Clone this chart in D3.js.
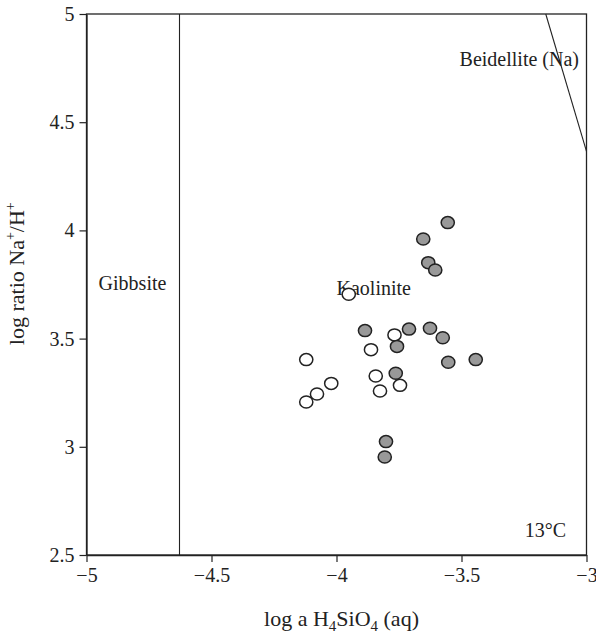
<!DOCTYPE html>
<html><head><meta charset="utf-8">
<script src="https://cdn.jsdelivr.net/npm/d3@7"></script>
<style>
body{margin:0;background:#fff;}
text{font-family:"Liberation Serif","Times New Roman",serif;fill:#222;}
</style></head>
<body><svg id="c" width="596" height="635"></svg>
<script>
const xTicks = [-5, -4.5, -4, -3.5, -3];
const yTicks = [2.5, 3, 3.5, 4, 4.5, 5];
const xTickLabels = ["\u22125", "\u22124.5", "\u22124", "\u22123.5", "\u22123"];
const yTickLabels = ["2.5", "3", "3.5", "4", "4.5", "5"];

const filledX = [-3.555, -3.653, -3.633, -3.605, -3.886, -3.710, -3.626, -3.575, -3.758, -3.553, -3.443, -3.763, -3.802, -3.807];
const filledY = [4.036, 3.960, 3.851, 3.817, 3.537, 3.544, 3.548, 3.504, 3.464, 3.391, 3.403, 3.340, 3.024, 2.953];
const openX = [-3.951, -3.768, -3.862, -4.121, -3.843, -4.021, -3.746, -4.078, -3.826, -4.121];
const openY = [3.705, 3.517, 3.449, 3.403, 3.327, 3.293, 3.284, 3.244, 3.258, 3.207];

const gibbsiteBoundaryX = -4.628;
const beidelliteLineX = [-3.163, -3.0];
const beidelliteLineY = [5.0, 4.365];

const fieldLabels = ["Gibbsite", "Kaolinite", "Beidellite (Na)", "13\u00b0C"];
const fieldLabelX = [-4.816, -4.0, -3.03, -3.082];
const fieldLabelY = [3.725, 3.70, 4.76, 2.583];
const fieldLabelAnchor = ["middle", "start", "end", "end"];

const W = 596, H = 635;
const m = {l: 86.5, r: 9.5, t: 14, b: 80};
const svg = d3.select("#c");
const x = d3.scaleLinear().domain([-5, -3]).range([m.l, W - m.r]);
const y = d3.scaleLinear().domain([2.5, 5]).range([H - m.b, m.t]);

const g = svg.append("g");

// frame
g.append("rect").attr("x", x(-5)).attr("y", y(5))
  .attr("width", x(-3) - x(-5)).attr("height", y(2.5) - y(5))
  .attr("fill", "none").attr("stroke", "#222").attr("stroke-width", 1.3);

// axes
const xAxis = d3.axisBottom(x).tickValues(xTicks).tickSize(7).tickSizeOuter(0)
  .tickFormat((d, i) => xTickLabels[i]);
const gx = g.append("g").attr("transform", `translate(0,${y(2.5)})`).call(xAxis);
const yAxis = d3.axisLeft(y).tickValues(yTicks).tickSize(7).tickSizeOuter(0)
  .tickFormat((d, i) => yTickLabels[i]);
const gy = g.append("g").attr("transform", `translate(${x(-5)},0)`).call(yAxis);
[gx, gy].forEach(a => {
  a.select(".domain").attr("stroke", "#222").attr("stroke-width", 1.3);
  a.selectAll(".tick line").attr("stroke", "#222").attr("stroke-width", 1.2);
  a.selectAll(".tick text").style("font-family", '"Liberation Serif",serif')
    .style("font-size", "20px").attr("fill", "#222");
});
gx.selectAll(".tick text").attr("dy", "0.3em").attr("y", 21);
gy.selectAll(".tick text").attr("x", -12);

// boundaries
g.append("line").attr("x1", x(gibbsiteBoundaryX)).attr("x2", x(gibbsiteBoundaryX))
  .attr("y1", y(2.5)).attr("y2", y(5)).attr("stroke", "#222").attr("stroke-width", 1.1);
g.append("line").attr("x1", x(beidelliteLineX[0])).attr("y1", y(beidelliteLineY[0]))
  .attr("x2", x(beidelliteLineX[1])).attr("y2", y(beidelliteLineY[1]))
  .attr("stroke", "#222").attr("stroke-width", 1.1);

// field labels
fieldLabels.forEach((t, i) => {
  g.append("text").attr("x", x(fieldLabelX[i])).attr("y", y(fieldLabelY[i]))
    .attr("text-anchor", fieldLabelAnchor[i]).style("font-size", "20px").text(t);
});

// points
const filled = filledX.map((v, i) => [v, filledY[i]]);
const open = openX.map((v, i) => [v, openY[i]]);
g.selectAll(".op").data(open).join("ellipse").attr("class", "op")
  .attr("cx", d => x(d[0])).attr("cy", d => y(d[1])).attr("rx", 6.6).attr("ry", 6.0)
  .attr("fill", "#fff").attr("stroke", "#222").attr("stroke-width", 1.5);
g.selectAll(".fp").data(filled).join("ellipse").attr("class", "fp")
  .attr("cx", d => x(d[0])).attr("cy", d => y(d[1])).attr("rx", 6.6).attr("ry", 6.0)
  .attr("fill", "#999").attr("stroke", "#222").attr("stroke-width", 1.5);

// axis titles
const xt = svg.append("text").attr("x", x(-3.98)).attr("y", 626)
  .attr("text-anchor", "middle").style("font-size", "22px");
xt.append("tspan").text("log a H");
xt.append("tspan").attr("dy", 5).style("font-size", "15px").text("4");
xt.append("tspan").attr("dy", -5).text("SiO");
xt.append("tspan").attr("dy", 5).style("font-size", "15px").text("4");
xt.append("tspan").attr("dy", -5).text(" (aq)");

const yt = svg.append("text").attr("transform", `translate(24,${y(3.8)}) rotate(-90)`)
  .attr("text-anchor", "middle").style("font-size", "22px");
yt.append("tspan").text("log ratio Na");
yt.append("tspan").attr("dy", -9).style("font-size", "14px").text("+");
yt.append("tspan").attr("dy", 9).text("/H");
yt.append("tspan").attr("dy", -9).style("font-size", "14px").text("+");
</script></body></html>
